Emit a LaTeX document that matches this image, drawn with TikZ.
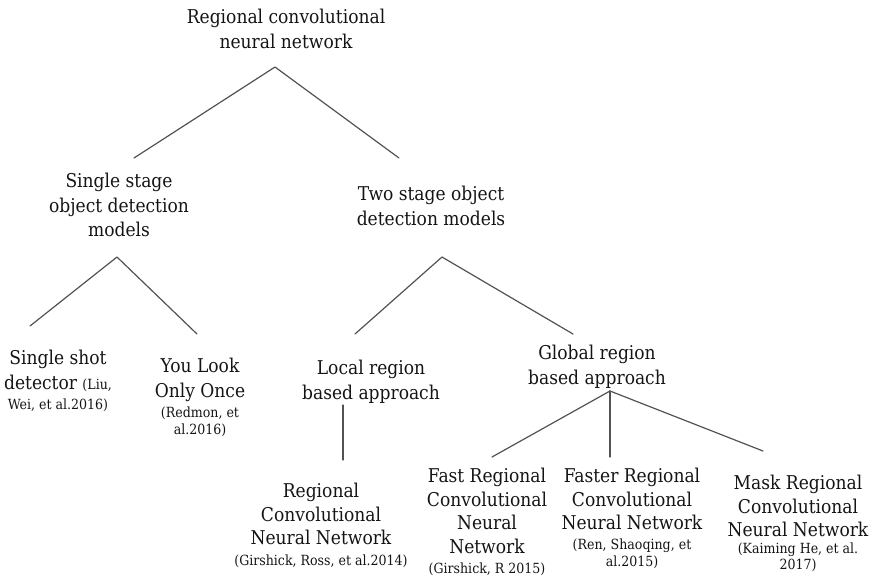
\documentclass[tikz,border=0pt]{standalone}
\usepackage{fontspec}
\setmainfont{DejaVu Serif Condensed}
\newcommand{\smallref}[1]{{\fontsize{14}{16}\selectfont #1}}
\begin{document}
\begin{tikzpicture}[x=1pt,y=-1pt,
  label/.style={align=center, inner sep=0pt, anchor=north,
                text=black!92, font=\rmfamily\fontsize{19}{24.5}\selectfont},
  leaf/.style={label, font=\rmfamily\fontsize{19}{23.5}\selectfont},
  branch/.style={draw=black!68, line width=1.2pt, line cap=round, line join=round}]
\useasboundingbox (0,0) rectangle (876,584);

% --- text nodes ---
\node[label] (root)   at (286,9)   {Regional convolutional\\neural network};
\node[label] (ss)     at (119,173) {Single stage\\object detection\\models};
\node[label] (ts)     at (431,186) {Two stage object\\detection models};
\node[label] (ssd)    at (58,350)  {Single shot\\detector \smallref{(Liu,}\\[-4pt]\smallref{Wei, et al.2016)}};
\node[label] (yolo)   at (200,358) {You Look\\Only Once\\[-4pt]\smallref{(Redmon, et}\\[-7.5pt]\smallref{al.2016)}};
\node[label] (local)  at (371,360) {Local region\\based approach};
\node[label] (global) at (597,345) {Global region\\based approach};
\node[leaf]  (rcnn)   at (321,483) {Regional\\Convolutional\\Neural Network\\[-3pt]\smallref{(Girshick, Ross, et al.2014)}};
\node[leaf]  (fast)   at (487,468) {Fast Regional\\Convolutional\\Neural\\Network\\[-3pt]\smallref{(Girshick, R 2015)}};
\node[leaf]  (faster) at (632,468) {Faster Regional\\Convolutional\\Neural Network\\[-4pt]\smallref{(Ren, Shaoqing, et}\\[-6.5pt]\smallref{al.2015)}};
\node[leaf]  (mask)   at (798,475) {Mask Regional\\Convolutional\\Neural Network\\[-7pt]\smallref{(Kaiming He, et al.}\\[-7pt]\smallref{2017)}};

% --- branch points and line ends ---
\coordinate (root-fork)   at (275,67);
\coordinate (ss-in)       at (134,158);
\coordinate (ts-in)       at (399,158);
\coordinate (ss-fork)     at (117,257);
\coordinate (ssd-in)      at (30,326);
\coordinate (yolo-in)     at (197,334);
\coordinate (ts-fork)     at (442,257);
\coordinate (local-in)    at (355,334);
\coordinate (global-in)   at (573,334);
\coordinate (local-fork)  at (343,405);
\coordinate (rcnn-in)     at (343,460);
\coordinate (global-fork) at (610,391);
\coordinate (fast-in)     at (492,457);
\coordinate (faster-in)   at (610,457);
\coordinate (mask-in)     at (763,451);

% --- tree branches ---
\draw[branch] (ss-in) -- (root-fork) -- (ts-in);
\draw[branch] (ssd-in) -- (ss-fork) -- (yolo-in);
\draw[branch] (local-in) -- (ts-fork) -- (global-in);
\draw[branch] (local-fork) -- (rcnn-in);
\draw[branch] (fast-in) -- (global-fork) -- (mask-in);
\draw[branch] (global-fork) -- (faster-in);
\end{tikzpicture}
\end{document}
